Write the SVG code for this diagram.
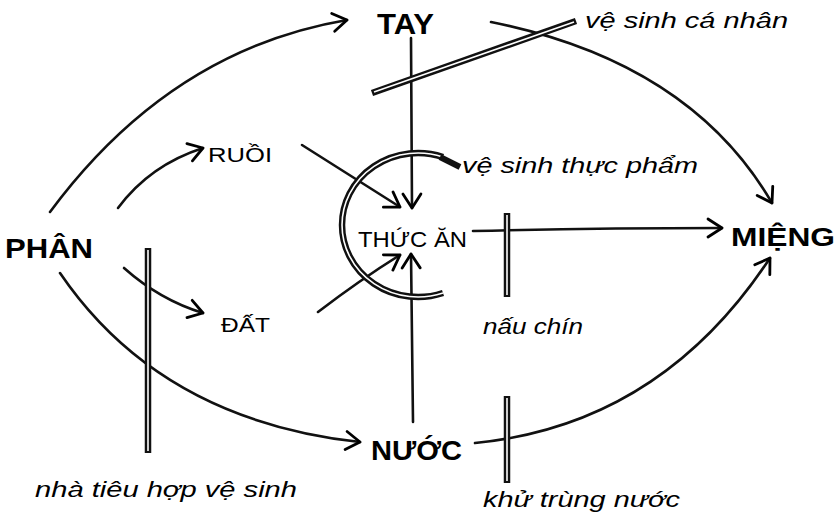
<svg xmlns="http://www.w3.org/2000/svg" width="836" height="522" viewBox="0 0 836 522">
<defs>
<marker id="arr" markerUnits="userSpaceOnUse" markerWidth="30" markerHeight="30" refX="0" refY="0" viewBox="-20 -15 30 30" orient="auto" overflow="visible">
<path d="M-14,-9 L0,0 L-14,9" fill="none" stroke="#000" stroke-width="2.8" stroke-linecap="round" stroke-linejoin="round"/>
</marker>
<style>
.c{fill:none;stroke:#111;stroke-width:2.6;stroke-linecap:round;marker-end:url(#arr)}
.bo{fill:none;stroke:#111;stroke-width:6.5;stroke-linecap:butt}
.bi{fill:none;stroke:#fff;stroke-width:1.6;stroke-linecap:butt}
.n{font-family:"Liberation Sans",Arial,sans-serif;font-weight:bold;fill:#000}
.s{font-family:"Liberation Sans",Arial,sans-serif;fill:#000}
.l{font-family:"Liberation Sans",Arial,sans-serif;font-style:italic;fill:#000}
</style>
</defs>
<rect width="836" height="522" fill="#fff"/>
<g id="connectors">
<path class="c" d="M50,212 Q170,50 347,20"/>
<path class="c" d="M118,208 Q150,165 203,148"/>
<path class="c" d="M302,145 L400,207"/>
<path class="c" d="M411,38 L412,208"/>
<path class="c" d="M473,231 Q600,228 722,228"/>
<path class="c" d="M491,22 Q690,62 772,203"/>
<path class="c" d="M124,268 Q160,300 203,313"/>
<path class="c" d="M318,312 Q360,280 400,255"/>
<path class="c" d="M413,422 L411,254"/>
<path class="c" d="M60,273 Q160,420 360,442"/>
<path class="c" d="M475,443 Q660,425 770,258"/>
</g>
<g id="barriers">
<path class="bo" d="M372,93 L576,21"/><path class="bi" d="M374,92 L574,22"/>
<path class="bo" d="M443,157 A76 72 0 1 0 443,293"/><path class="bi" d="M443,157 A76 72 0 1 0 443,293"/>
<path d="M440,157 L460,167" stroke="#111" stroke-width="6" fill="none"/>
<path class="bo" d="M148,248 L148,453"/><path class="bi" d="M148,250 L148,451"/>
<path class="bo" d="M507,213 L507,297"/><path class="bi" d="M507,215 L507,295"/>
<path class="bo" d="M507,396 L507,483"/><path class="bi" d="M507,398 L507,481"/>
</g>
<g id="tay"><text class="n" x="377" y="34" font-size="29" textLength="57" lengthAdjust="spacingAndGlyphs">TAY</text></g>
<g id="phan"><text class="n" x="5" y="258" font-size="28" textLength="88" lengthAdjust="spacingAndGlyphs">PHÂN</text></g>
<g id="mieng"><text class="n" x="731" y="246" font-size="26" textLength="104" lengthAdjust="spacingAndGlyphs">MIỆNG</text></g>
<g id="nuoc"><text class="n" x="371" y="460" font-size="27" textLength="91" lengthAdjust="spacingAndGlyphs">NƯỚC</text></g>
<g id="ruoi"><text class="s" x="208" y="162" font-size="21" textLength="64" lengthAdjust="spacingAndGlyphs">RUỒI</text></g>
<g id="dat"><text class="s" x="221" y="332" font-size="21" textLength="49" lengthAdjust="spacingAndGlyphs">ĐẤT</text></g>
<g id="thucan"><text class="s" x="358" y="247" font-size="22" textLength="109" lengthAdjust="spacingAndGlyphs">THỨC ĂN</text></g>
<g id="labels">
<text class="l" x="585" y="28" font-size="22" textLength="203" lengthAdjust="spacingAndGlyphs">vệ sinh cá nhân</text>
<text class="l" x="462" y="173" font-size="22" textLength="236" lengthAdjust="spacingAndGlyphs">vệ sinh thực phẩm</text>
<text class="l" x="483" y="334" font-size="22" textLength="100" lengthAdjust="spacingAndGlyphs">nấu chín</text>
<text class="l" x="483" y="507" font-size="22" textLength="197" lengthAdjust="spacingAndGlyphs">khử trùng nước</text>
<text class="l" x="35" y="497" font-size="22" textLength="262" lengthAdjust="spacingAndGlyphs">nhà tiêu hợp vệ sinh</text>
</g>
</svg>
